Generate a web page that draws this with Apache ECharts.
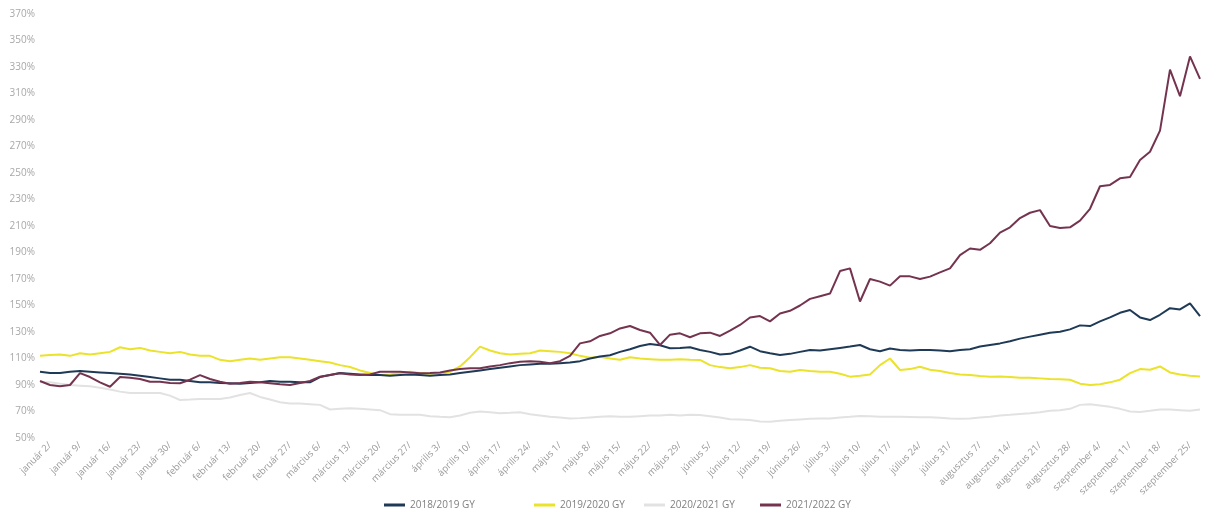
<!DOCTYPE html>
<html>
<head>
<meta charset="utf-8">
<script src="https://cdn.jsdelivr.net/npm/echarts@6/dist/echarts.min.js"></script>
<style>
html,body{margin:0;padding:0;background:#fff;}
#chart{width:1207px;height:511px;}
</style>
</head>
<body>
<div id="chart"></div>
<script>
// Weekly tick labels (x axis)
const weekLabels = ['január 2/','január 9/','január 16/','január 23/','január 30/','február 6/','február 13/','február 20/','február 27/','március 6/','március 13/','március 20/','március 27/','április 3/','április 10/','április 17/','április 24/','május 1/','május 8/','május 15/','május 22/','május 29/','június 5/','június 12/','június 19/','június 26/','július 3/','július 10/','július 17/','július 24/','július 31/','augusztus 7/','augusztus 14/','augusztus 21/','augusztus 28/','szeptember 4/','szeptember 11/','szeptember 18/','szeptember 25/'];

const seriesNames = ['2018/2019 GY','2019/2020 GY','2020/2021 GY','2021/2022 GY'];

// Values (%), three readings per week
const s2018 = [100,99,99,100,100.5,100,99.5,99,98.5,98,97,96,95,94,94,93,92,92,91.5,91.3,91,91.5,92,93,92.5,92.5,92,92,96,97.5,99,98.5,98,97.5,97.5,97,97.5,98,97.5,97,97.5,98,99,100,101,102,103,104,105,105.5,106,106,106.5,107,108,110,111.5,112.5,115,117,119.4,121,120,117.7,118,118.5,116.4,115,113,113.5,116,118.9,115.5,114,112.6,113.5,115,116.4,116,117,118,119,120.2,117,115.5,117.5,116.5,116,116.5,116.4,116,115.5,116.4,117,119,120.2,121.4,123,125,126.5,128,129.5,130.2,132,135,134.5,138,141,144.5,146.6,141,139,143,148,147,151.6,142];
const s2019 = [112,112.6,113,112,114,113,114,115,118.5,117,118,116,115,114,115,113,112,112,109,108,109,110,109,110,111,111,110,109,108,107,105,103.6,101,99,97.5,98,99,100,99,98.5,99,100,104,111,119,116,114,113,113.5,114,116,115.5,115,114,112,110.5,111.4,110,109,111,110,109.5,109,109,109.5,109,108.9,105,103.5,102.6,103.5,105,103,102.6,100.5,100,101.3,100.5,100,100,98.5,96.3,97,98,105,110,101.3,102,103.8,101.5,100.5,99,98,97.5,96.8,96.3,96.5,96,95.5,95.5,95,94.5,94.3,94,91,90,90.5,92,94,99,102,101.5,104,99.5,98,97,96.5];
const s2020 = [92,92,91,90,89.5,89,88,86.6,85,84,84,84,84,82,78.7,79,79.4,79.4,79.5,80.5,82.5,84,81,79,77,76,76,75.5,75,71.5,72,72.4,72,71.5,71,68,67.5,67.5,67.5,66.5,66,65.6,67,69,70,69.5,68.6,69,69.5,68,67,66,65.5,64.8,65,65.5,66,66.5,66,66,66.5,67,67,67.5,67,67.5,67.4,66.5,65.5,64.2,64,63.5,62.5,62.3,63,63.5,64,64.5,64.8,64.8,65.5,66,66.6,66.5,66,66,66,65.8,65.6,65.6,65.2,64.8,64.5,64.8,65.5,66,67,67.5,68.2,68.6,69.5,70.5,71,72,75,75.5,74.5,73.5,72,70,69.7,70.5,71.5,71.5,71,70.5,71.5];
const s2021 = [93,90,89,90,99,96,92,88.7,96,95.5,94.5,92.5,92.5,91.5,91.3,94,97.5,94.5,92.5,91,91.5,92.5,92,91.3,90.5,90,91.5,93,96.3,97.5,98.8,98,97.5,98,100,100,100,99.5,98.8,99,99.5,101,102,102.6,102.6,104,105,106.5,107.6,108,107.5,106.4,108,112,121.4,123,127,129,132.7,134.5,131.5,129.5,120.2,128,129,126,129,129.5,127,131,135.3,141,142,138,144,146,150,155,157,159,176,178,153,170,168,165,172,172,170,171.8,175,178,188,193,192,197,205,209,216,220,222,210,208.5,209,214,223,240,241,246,247,259.8,266,282,328,308,338,321];

// Build category list: one named point per week plus two in-between readings
const categories = [];
for (let i = 0; i < s2018.length; i++) {
  const w = Math.floor((i - 1) / 3);
  const k = (i - 1) - w * 3;
  if (i >= 1 && k === 0 && w < weekLabels.length) categories.push(weekLabels[w]);
  else categories.push('_' + i);
}

const colors = ['#1f3a56', '#ebe22a', '#e2e2e2', '#74344f'];
const allData = [s2018, s2019, s2020, s2021];
const legendLefts = [379, 529, 639, 755];

const chart = echarts.init(document.getElementById('chart'));
chart.setOption({
  animation: false,
  backgroundColor: '#ffffff',
  color: colors,
  grid: { left: 40, right: 7, top: 14, bottom: 73 },
  legend: seriesNames.map((n, idx) => ({
    data: [n],
    left: legendLefts[idx],
    top: 495,
    icon: 'rect',
    itemWidth: 21,
    itemHeight: 3,
    itemGap: 2,
    textStyle: { color: '#808080', fontSize: 10, fontFamily: 'Open Sans' }
  })),
  xAxis: {
    type: 'category',
    data: categories,
    boundaryGap: false,
    axisLine: { show: false },
    axisTick: { show: false },
    splitLine: { show: false },
    axisLabel: {
      rotate: 45,
      fontSize: 9.5,
      color: '#9a9a9a',
      fontFamily: 'Open Sans',
      margin: 6,
      interval: function (index) { return index >= 1 && (index - 1) % 3 === 0 && (index - 1) / 3 < weekLabels.length; }
    }
  },
  yAxis: {
    type: 'value',
    min: 50,
    max: 370,
    interval: 20,
    axisLine: { show: false },
    axisTick: { show: false },
    splitLine: { show: false },
    axisLabel: {
      formatter: '{value}%',
      fontSize: 10,
      color: '#a8a8a8',
      fontFamily: 'Open Sans',
      margin: 5
    }
  },
  series: seriesNames.map((n, idx) => ({
    name: n,
    type: 'line',
    data: allData[idx],
    symbol: 'none',
    lineStyle: { width: 2, color: colors[idx] },
    itemStyle: { color: colors[idx] },
    z: idx === 2 ? 1 : (idx === 1 ? 2 : (idx === 0 ? 3 : 4))
  }))
});
</script>
</body>
</html>
